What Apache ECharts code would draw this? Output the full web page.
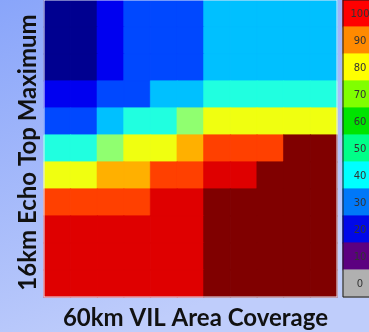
<!DOCTYPE html>
<html>
<head>
<meta charset="utf-8">
<style>
  html, body { margin: 0; padding: 0; }
  #chart { width: 369px; height: 332px; }
</style>
<script src="https://cdn.jsdelivr.net/npm/echarts@6/dist/echarts.min.js"></script>
</head>
<body>
<div id="chart"></div>
<script>
// Bin labels along each axis (not displayed as ticks)
const vilBins = ['0', '1', '2', '3', '4', '5', '6', '7', '8', '9', '10'];
const echoTopBins = ['10', '9', '8', '7', '6', '5', '4', '3', '2', '1', '0'];

// Cell values (0-100), rows listed from top to bottom
const gridRows = [
  [0, 0, 10, 20, 20, 20, 30, 30, 30, 30, 30],
  [0, 0, 10, 20, 20, 20, 30, 30, 30, 30, 30],
  [0, 0, 10, 20, 20, 20, 30, 30, 30, 30, 30],
  [10, 10, 20, 20, 30, 30, 40, 40, 40, 40, 40],
  [20, 20, 30, 40, 40, 50, 60, 60, 60, 60, 60],
  [40, 40, 50, 60, 60, 70, 80, 80, 80, 100, 100],
  [60, 60, 70, 70, 80, 80, 90, 90, 100, 100, 100],
  [80, 80, 80, 80, 90, 90, 100, 100, 100, 100, 100],
  [90, 90, 90, 90, 90, 90, 100, 100, 100, 100, 100],
  [90, 90, 90, 90, 90, 90, 100, 100, 100, 100, 100],
  [90, 90, 90, 90, 90, 90, 100, 100, 100, 100, 100]
];

// Colour key entries, top to bottom
const keyValues = [100, 90, 80, 70, 60, 50, 40, 30, 20, 10, 0];
const keyColors = ['#ff0000', '#ff8a00', '#ffff00', '#80ff00', '#00e400', '#00ff88',
                   '#00ffff', '#0078f8', '#0008e8', '#5c0080', '#b0b0b0'];

// Jet-style shading for the cells, indexed by value / 10
const cellColors = ['#000090', '#0000f0', '#0048ff', '#00c0ff', '#20ffe0', '#90ff70',
                    '#f0ff10', '#ffb000', '#ff4000', '#df0000', '#800000'];

// Each cell carries a matching border so neighbouring cells join without seams
function solidItem(value, color) {
  return { value, itemStyle: { color, borderColor: color, borderWidth: 0.6 } };
}

const cellData = [];
gridRows.forEach((row, r) => row.forEach((v, c) => {
  cellData.push(solidItem([c, r, v], cellColors[Math.round(v / 10)]));
}));
const keyData = keyValues.map((v, i) => solidItem([0, i, v], keyColors[i]));

const chart = echarts.init(document.getElementById('chart'));
chart.setOption({
  animation: false,
  backgroundColor: {
    type: 'linear', x: 0, y: 0, x2: 0.35, y2: 1,
    colorStops: [{ offset: 0, color: '#89a5fa' }, { offset: 1, color: '#bfcdfb' }]
  },
  grid: [
    { left: 44, top: 0, width: 293, height: 297, show: true, z: 5, outerBoundsMode: 'none',
      backgroundColor: 'transparent', borderColor: '#e8ecfa', borderWidth: 1 },
    { left: 343, top: 0, width: 38, height: 297, show: true, z: 5, outerBoundsMode: 'none',
      backgroundColor: 'transparent', borderColor: '#1a1a1a', borderWidth: 1 }
  ],
  xAxis: [
    { type: 'category', gridIndex: 0, data: vilBins,
      axisLine: { show: false }, axisTick: { show: false }, axisLabel: { show: false },
      splitLine: { show: false },
      name: '60km VIL Area Coverage', nameLocation: 'middle', nameGap: 9,
      nameTextStyle: { fontFamily: 'Lato', fontWeight: 'bold', fontSize: 24, color: '#111',
                       padding: [0, 0, 0, 10] } },
    { type: 'category', gridIndex: 1, data: ['key'],
      axisLine: { show: false }, axisTick: { show: false }, axisLabel: { show: false } }
  ],
  yAxis: [
    { type: 'category', gridIndex: 0, data: echoTopBins, inverse: true,
      axisLine: { show: false }, axisTick: { show: false }, axisLabel: { show: false },
      splitLine: { show: false },
      name: '16km Echo Top Maximum', nameLocation: 'middle', nameGap: 4, nameRotate: 90,
      nameTextStyle: { fontFamily: 'Lato', fontWeight: 'bold', fontSize: 24, color: '#111',
                       padding: [0, 8, 0, 0] } },
    { type: 'category', gridIndex: 1, data: keyValues.map(String), inverse: true,
      axisLine: { show: false }, axisTick: { show: false }, axisLabel: { show: false } }
  ],
  series: [
    { type: 'heatmap', xAxisIndex: 0, yAxisIndex: 0, data: cellData,
      emphasis: { disabled: true } },
    { type: 'heatmap', xAxisIndex: 1, yAxisIndex: 1, data: keyData,
      emphasis: { disabled: true },
      label: { show: true, formatter: p => p.value[2], color: '#333',
               fontFamily: 'DejaVu Sans', fontSize: 10, offset: [-2, 1] } }
  ]
});
</script>
</body>
</html>
